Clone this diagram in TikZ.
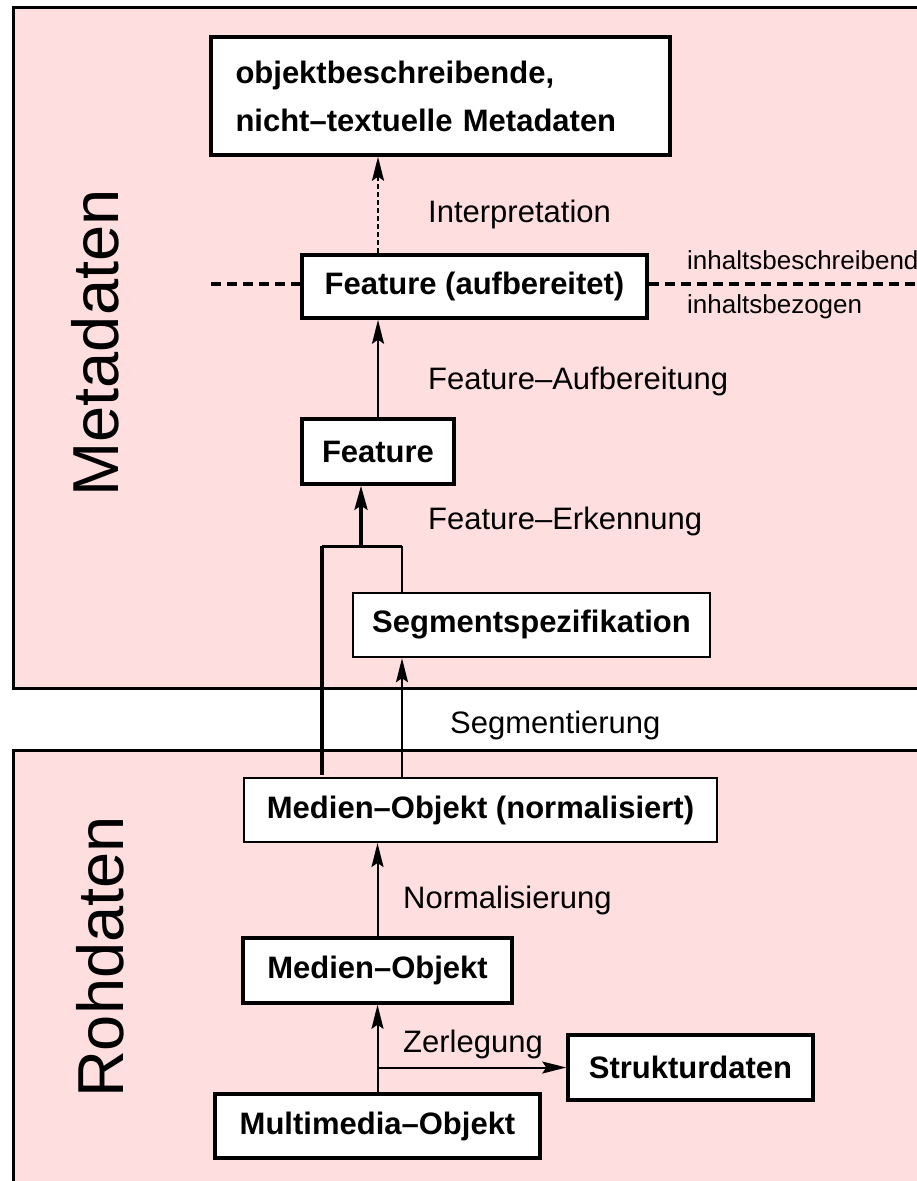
\documentclass[tikz,border=0pt]{standalone}
\usepackage{fontspec}
\setmainfont{Liberation Sans}
\usetikzlibrary{arrows.meta}
\definecolor{panelpink}{RGB}{255,222,224}
\begin{document}
\begin{tikzpicture}[x=1pt,y=-1pt,
  box/.style={draw=black, fill=white, inner sep=0pt, font=\fontsize{31}{48}\selectfont\bfseries},
  thickbox/.style={box, line width=3.5pt},
  medbox/.style={box, line width=2.5pt},
  thinbox/.style={box, line width=2pt},
  lbl/.style={inner sep=0pt, anchor=base west, font=\fontsize{31}{38}\selectfont},
  smalllbl/.style={inner sep=0pt, anchor=base west, font=\fontsize{26}{30}\selectfont},
  biglbl/.style={inner sep=0pt, anchor=base, rotate=90, font=\fontsize{65}{70}\selectfont},
  panelline/.style={draw=black, line width=3pt},
  arr/.style={-{Stealth[length=24pt, width=12pt, inset=4pt]}, line width=2pt},
  thickarr/.style={-{Stealth[length=24pt, width=13pt, inset=4pt]}, line width=3.5pt},
  dotarr/.style={arr, dash pattern=on 5pt off 3pt},
  sep/.style={line width=3.5pt, dash pattern=on 10pt off 6pt}
]
\useasboundingbox (0,0) rectangle (917,1181);
\fill[white] (0,0) rectangle (917,1181);
% panels
\fill[panelpink] (13,7) rectangle (917,688);
\fill[panelpink] (13,750) rectangle (917,1181);
\draw[panelline] (917,7) -- (13,7) -- (13,688) -- (917,688);
\draw[panelline] (917,750) -- (13,750) -- (13,1183);

% panel titles
\node[biglbl] (tmeta) at (118,343) {Metadaten};
\node[biglbl] (troh) at (123,957) {Rohdaten};

% boxes
\node[thickbox, minimum width=459pt, minimum height=118pt, text width=410pt, align=left] (top) at (440.5,96)
  {objektbeschreibende,\\nicht–textuelle Metadaten};
\node[thickbox, minimum width=345pt, minimum height=63pt] (faufb) at (474.5,286.5) {Feature (aufbereitet)};
\node[thickbox, minimum width=152pt, minimum height=65pt] (feat) at (378,451.5) {Feature};
\node[medbox, minimum width=357pt, minimum height=64pt] (seg) at (531.5,625) {Segmentspezifikation};
\node[thinbox, minimum width=473pt, minimum height=64pt] (mnorm) at (480.5,810) {Medien–Objekt (normalisiert)};
\node[thickbox, minimum width=269pt, minimum height=65pt] (medien) at (377.5,970.5) {Medien–Objekt};
\node[thickbox, minimum width=245pt, minimum height=65pt] (struk) at (690.5,1067.5) {Strukturdaten};
\node[thickbox, minimum width=325pt, minimum height=64pt] (multi) at (377.5,1126) {Multimedia–Objekt};

% separator
\coordinate (dl) at (211,284);
\coordinate (dr) at (917,284);
\draw[sep] (dl) -- (dl -| faufb.west);
\draw[sep] (dr -| faufb.east) -- (dr);

% labels
\node[lbl] (lint) at (428,222) {Interpretation};
\node[lbl] (lauf) at (428,389) {Feature–Aufbereitung};
\node[lbl] (lerk) at (428,529) {Feature–Erkennung};
\node[lbl] (lseg) at (450,733) {Segmentierung};
\node[lbl] (lnorm) at (403,908) {Normalisierung};
\node[lbl] (lzer) at (403,1052) {Zerlegung};
\node[smalllbl] (lib) at (687,269) {inhaltsbeschreibend};
\node[smalllbl] (libz) at (687,313) {inhaltsbezogen};

% connectors
\draw[dotarr] (feat |- faufb.north) -- (feat |- top.south);
\draw[arr] (feat.north) -- (feat |- faufb.south);
\coordinate (j) at (361,546);
\coordinate (jl) at (322,546);
\coordinate (jr) at (402,546);
\coordinate (ml) at (322,775);
\draw[thickarr] (j) -- (j |- feat.south);
\draw[line width=3pt] (jl) -- (jr);
\draw[line width=3.5pt] (jl) -- (ml);
\draw[line width=2pt] (jr) -- (jr |- seg.north);
\draw[arr] (jr |- mnorm.north) -- (jr |- seg.south);
\draw[arr] (medien.north) -- (medien |- mnorm.south);
\coordinate (z) at (377.5,1067.5);
\draw[arr] (multi.north) -- (medien.south);
\draw[arr] (z) -- (struk.west);
\end{tikzpicture}
\end{document}
